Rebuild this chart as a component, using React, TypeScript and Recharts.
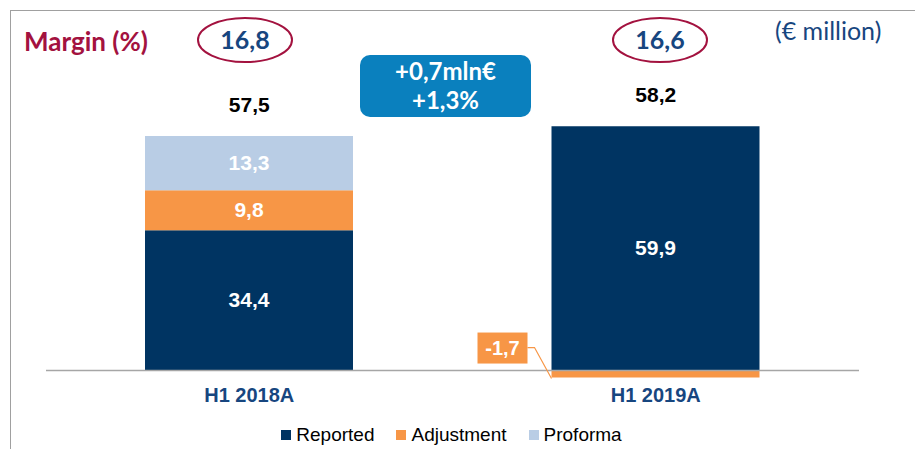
import { Bar, BarChart, LabelList, Legend, ReferenceDot, ReferenceLine, XAxis, YAxis } from "recharts";

const periods = ["H1 2018A", "H1 2019A"];
const reported = [34.4, 59.9];
const adjustment = [9.8, -1.7];
const proforma = [13.3, 0];
const totals = [57.5, 58.2];
const margins = [16.8, 16.6];
const deltaLines = ["+0,7mln€", "+1,3%"];

const NAVY = "#003462";
const ORANGE = "#F79646";
const LIGHT = "#B9CDE5";
const CRIMSON = "#A3123F";
const TEXT_NAVY = "#17467F";
const ARIAL = "'Liberation Sans', Arial, sans-serif";
const CAL = "Lato, 'Noto Sans', sans-serif";

const data = periods.map((p, i) => ({
  period: p,
  Reported: reported[i],
  Adjustment: adjustment[i],
  Proforma: proforma[i],
}));

// top of the positive part of each stack, where the total sits
const stackTops = periods.map(
  (_, i) =>
    Math.max(reported[i], 0) + Math.max(adjustment[i], 0) + Math.max(proforma[i], 0)
);

const fmt = (v: number) => v.toFixed(1).replace(".", ",");

const series = [
  { key: "Reported", color: NAVY },
  { key: "Adjustment", color: ORANGE },
  { key: "Proforma", color: LIGHT },
];

function InsideLabel(props: any) {
  const { x, y, width, height, value } = props;
  if (!value || value <= 0) return null;
  return (
    <text
      x={x + width / 2}
      y={y + height / 2}
      dy={7}
      textAnchor="middle"
      fill="#fff"
      fontFamily={ARIAL}
      fontWeight="bold"
      fontSize={21}
    >
      {fmt(value)}
    </text>
  );
}

// negative adjustment gets an orange callout box to the left of the bar
function NegativeLabel(props: any) {
  const { x, y, value } = props;
  if (value >= 0) return null;
  const bx = x - 74;
  const by = y - 45;
  return (
    <g>
      <polyline
        points={`${x},${y + 1} ${x - 17},${by + 15} ${x - 24},${by + 15}`}
        fill="none"
        stroke={ORANGE}
        strokeWidth={1.2}
      />
      <rect x={bx} y={by} width={50} height={31} fill={ORANGE} />
      <text
        x={bx + 25}
        y={by + 22}
        textAnchor="middle"
        fill="#fff"
        fontFamily={ARIAL}
        fontWeight="bold"
        fontSize={20}
      >
        {fmt(value)}
      </text>
    </g>
  );
}

function TotalLabel(props: any) {
  const { viewBox, index } = props;
  return (
    <text
      x={viewBox.x}
      y={viewBox.y - 24}
      textAnchor="middle"
      fill="#000"
      fontFamily={ARIAL}
      fontWeight="bold"
      fontSize={21}
    >
      {fmt(totals[index])}
    </text>
  );
}

function PeriodTick(props: any) {
  const { x, payload } = props;
  return (
    <text
      x={x}
      y={402}
      textAnchor="middle"
      fill={TEXT_NAVY}
      fontFamily={ARIAL}
      fontWeight="bold"
      fontSize={20}
    >
      {payload.value}
    </text>
  );
}

function LegendContent() {
  return (
    <div
      style={{
        display: "flex",
        justifyContent: "center",
        gap: 22,
        fontFamily: ARIAL,
        fontSize: 19,
        color: "#000",
        paddingRight: 12,
      }}
    >
      {series.map((s) => (
        <span key={s.key} style={{ display: "flex", alignItems: "center", gap: 5 }}>
          <span style={{ width: 10, height: 10, background: s.color, display: "inline-block" }} />
          {s.key}
        </span>
      ))}
    </div>
  );
}

export default function App() {
  return (
    <div
      style={{
        position: "absolute",
        left: 0,
        top: 0,
        width: 915,
        height: 449,
        background: "#fff",
        overflow: "hidden",
      }}
    >
      <div
        style={{
          position: "absolute",
          left: 10,
          top: 10,
          width: 910,
          height: 445,
          borderLeft: "1.5px solid #A0A0A0",
          borderTop: "1.5px solid #A0A0A0",
        }}
      />
      <BarChart
        width={915}
        height={449}
        data={data}
        stackOffset="sign"
        margin={{ top: 85, right: 56, bottom: 0, left: 46 }}
        barCategoryGap={0}
        style={{ position: "absolute", left: 0, top: 0 }}
      >
        <XAxis
          dataKey="period"
          axisLine={false}
          tickLine={false}
          height={58}
          tick={<PeriodTick />}
          interval={0}
        />
        <YAxis hide domain={[-5, 70]} width={0} />
        <ReferenceLine y={0} stroke="#A6A6A6" strokeWidth={1.5} />
        <Bar dataKey="Reported" stackId="a" fill={NAVY} barSize={208} isAnimationActive={false}>
          <LabelList dataKey="Reported" content={<InsideLabel />} />
        </Bar>
        <Bar dataKey="Adjustment" stackId="a" fill={ORANGE} barSize={208} isAnimationActive={false}>
          <LabelList dataKey="Adjustment" content={<InsideLabel />} />
          <LabelList dataKey="Adjustment" content={<NegativeLabel />} />
        </Bar>
        <Bar dataKey="Proforma" stackId="a" fill={LIGHT} barSize={208} isAnimationActive={false}>
          <LabelList dataKey="Proforma" content={<InsideLabel />} />
        </Bar>
        {periods.map((p, i) => (
          <ReferenceDot
            key={p}
            x={p}
            y={stackTops[i]}
            r={0}
            fill="none"
            stroke="none"
            label={<TotalLabel index={i} />}
          />
        ))}
        <Legend
          verticalAlign="middle"
          align="center"
          content={<LegendContent />}
          wrapperStyle={{ top: 424, left: 0, width: 915 }}
        />
      </BarChart>
      <svg
        width={915}
        height={449}
        style={{ position: "absolute", left: 0, top: 0, pointerEvents: "none" }}
      >
        <text x={24} y={51} fill={CRIMSON} fontFamily={CAL} fontWeight="bold" fontSize={26}>
          Margin (%)
        </text>
        {margins.map((m, i) => {
          const cx = i === 0 ? 245 : 660;
          return (
            <g key={i}>
              <ellipse cx={cx} cy={40} rx={47} ry={22} fill="none" stroke={CRIMSON} strokeWidth={2} />
              <text
                x={cx}
                y={49}
                textAnchor="middle"
                fill={TEXT_NAVY}
                fontFamily={CAL}
                fontWeight="bold"
                fontSize={25}
              >
                {fmt(m)}
              </text>
            </g>
          );
        })}
        <text x={775} y={40} fill={TEXT_NAVY} fontFamily={CAL} fontSize={25}>
          (€ million)
        </text>
        <rect x={360} y={55} width={171} height={62} rx={10} fill="#0A80BE" />
        {deltaLines.map((t, i) => (
          <text
            key={t}
            x={445.5}
            y={80 + i * 29}
            textAnchor="middle"
            fill="#fff"
            fontFamily={CAL}
            fontWeight="bold"
            fontSize={24}
          >
            {t}
          </text>
        ))}
      </svg>
    </div>
  );
}
